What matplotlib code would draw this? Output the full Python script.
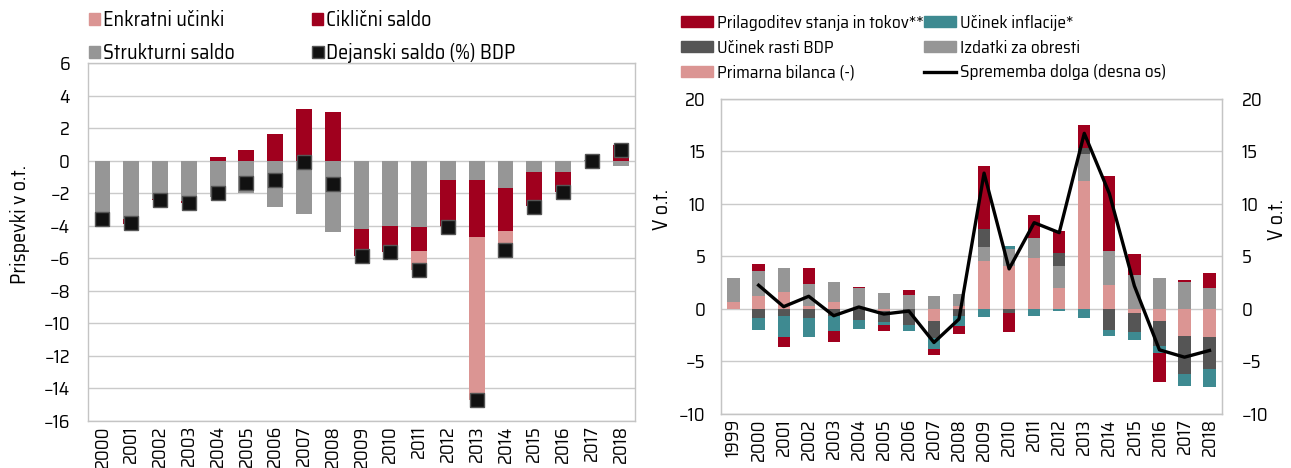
import matplotlib
matplotlib.use('Agg')
import matplotlib.pyplot as plt
import numpy as np
from matplotlib import font_manager as fm
from matplotlib.patches import Patch
from matplotlib.lines import Line2D

# pick a condensed humanist sans if one is installed, else Roboto
FAM = 'Roboto'
STRETCH = 'normal'
pref = ['semi-condensed', 'condensed']
best = None
for f in fm.fontManager.ttflist:
    st = str(f.stretch)
    nm = f.name
    cond = (st in pref) or ('Condensed' in nm) or ('Narrow' in nm)
    if not cond or f.style != 'normal':
        continue
    if str(f.weight) not in ('400', 'normal', 'regular', 'book'):
        continue
    score = 0
    if 'Noto Sans' in nm or 'Open Sans' in nm:
        score += 2
    if st == 'semi-condensed' or 'SemiCondensed' in nm:
        score += 1
    if best is None or score > best[0]:
        best = (score, nm, st)
if best is not None:
    FAM, STRETCH = best[1], best[2]

plt.rcParams['font.family'] = [FAM, 'Roboto', 'DejaVu Sans']
plt.rcParams['font.stretch'] = STRETCH
plt.rcParams['font.size'] = 13.5

# ---------------- data: left chart ----------------
years_l = [str(y) for y in range(2000, 2019)]
structural = [-3.45, -3.6, -2.35, -2.45, -2.25, -2.0, -2.85, -3.25, -4.4, -4.2,
              -4.0, -4.1, -1.2, -1.2, -1.7, -0.7, -0.7, 0.05, -0.3]
cyclical = [-0.15, -0.3, -0.05, -0.15, 0.25, 0.65, 1.65, 3.15, 3.0, -1.65,
            -1.6, -1.45, -2.8, -3.5, -2.65, -2.1, -1.25, -0.05, 0.95]
one_off = [0, 0, 0, 0, 0, 0, 0, 0, 0, 0,
           0, -1.15, -0.05, -10.0, -1.2, 0, 0, 0, 0]
actual = [-3.6, -3.85, -2.4, -2.6, -2.0, -1.35, -1.2, -0.1, -1.45, -5.85,
          -5.6, -6.7, -4.05, -14.7, -5.5, -2.85, -1.95, 0.0, 0.65]

# ---------------- data: right chart ----------------
years_r = [str(y) for y in range(1999, 2019)]
primary = [0.67, 1.27, 1.59, 0.25, 0.7, 0.2, -0.15, 0.0, -1.18, 0.32,
           4.53, 4.08, 4.81, 2.04, 12.17, 2.33, -0.38, -1.12, -2.55, -2.68]
interest = [2.3, 2.36, 2.3, 2.17, 1.91, 1.78, 1.53, 1.37, 1.24, 1.08,
            1.33, 1.59, 1.91, 2.04, 2.58, 3.21, 3.28, 2.96, 2.55, 2.01]
growth = [0.0, -0.89, -0.64, -0.86, -0.7, -1.08, -1.05, -1.5, -1.6, -0.64,
          1.79, -0.38, 0.0, 1.27, 0.58, -1.98, -1.82, -2.45, -3.6, -3.06]
inflation = [0.0, -1.15, -2.07, -1.79, -1.44, -0.83, -0.35, -0.57, -1.02, -1.02,
             -0.76, 0.32, -0.64, -0.22, -0.89, -0.63, -0.76, -0.64, -1.18, -1.65]
sfa = [0.0, 0.64, -0.89, 1.5, -0.98, 0.12, -0.5, 0.48, -0.58, -0.73,
       5.93, -1.85, 2.23, 2.08, 2.2, 7.08, 1.91, -2.77, 0.19, 1.43]
debt_change = [np.nan, 2.26, 0.22, 1.21, -0.64, 0.19, -0.48, -0.2, -3.19, -0.96,
               12.94, 3.82, 8.22, 7.27, 16.73, 11.0, 2.2, -3.89, -4.59, -3.95]

C_RED = '#A0001E'
C_PINK = '#DB9593'
C_GRAY = '#969696'
C_DGRAY = '#555555'
C_TEAL = '#3E8A91'
C_BLACK = '#111111'
C_GRID = '#CACACA'


def stacked(ax, labels, series, colors, width):
    x = np.arange(len(labels))
    pos = np.zeros(len(labels))
    neg = np.zeros(len(labels))
    for vals, c in zip(series, colors):
        v = np.asarray(vals, dtype=float)
        bottom = np.where(v >= 0, pos, neg)
        ax.bar(x, v, width, bottom=bottom, color=c, linewidth=0, zorder=2)
        pos += np.where(v >= 0, v, 0)
        neg += np.where(v < 0, v, 0)
    return x


def style(ax):
    for s in ax.spines.values():
        s.set_color('#C4C4C4')
        s.set_linewidth(1.0)
    ax.yaxis.grid(True, color=C_GRID, linewidth=1.0, zorder=0)
    ax.set_axisbelow(True)
    ax.tick_params(length=0)


fig = plt.figure(figsize=(12.91, 4.68), dpi=100)

# ---------------- left chart ----------------
axl = fig.add_axes([0.0682, 0.1004, 0.4237, 0.765])
x = stacked(axl, years_l, [structural, cyclical, one_off], [C_GRAY, C_RED, C_PINK], 0.55)
axl.plot(x, actual, linestyle='none', marker='s', markersize=9.5,
         markerfacecolor=C_BLACK, markeredgecolor='#555555', markeredgewidth=1.0, zorder=4)
axl.set_xlim(-0.5, len(years_l) - 0.5)
axl.set_ylim(-16, 6)
axl.set_yticks(np.arange(-16, 7, 2))
axl.set_xticks(x)
axl.set_xticklabels(years_l, rotation=90)
style(axl)
axl.tick_params(axis='y', pad=13)
axl.tick_params(axis='x', pad=3)
axl.set_ylabel('Prispevki v o.t.', fontsize=14.5)
axl.yaxis.set_label_coords(-0.106, 0.55)

# left legend (two columns)
hl1 = [Patch(color=C_PINK), Patch(color=C_GRAY)]
hl2 = [Patch(color=C_RED),
       Line2D([], [], linestyle='none', marker='s', markersize=8,
              markerfacecolor=C_BLACK, markeredgecolor='#555555')]
kw = dict(frameon=False, borderpad=0, handlelength=0.55, handleheight=0.55,
          handletextpad=0.15, labelspacing=0.65, loc='upper left', borderaxespad=0,
          fontsize=14.5)
fig.legend(hl1, ['Enkratni učinki', 'Strukturni saldo'],
           bbox_to_anchor=(89 / 1291, 1 - 10 / 468), **kw)
fig.legend(hl2, ['Ciklični saldo', 'Dejanski saldo (%) BDP'],
           bbox_to_anchor=(312 / 1291, 1 - 10 / 468), **kw)

# ---------------- right chart ----------------
axr = fig.add_axes([0.5585, 0.1154, 0.3881, 0.6731])
xr = stacked(axr, years_r, [primary, interest, growth, inflation, sfa],
             [C_PINK, C_GRAY, C_DGRAY, C_TEAL, C_RED], 0.49)
axr.set_xlim(-0.5, len(years_r) - 0.5)
axr.set_ylim(-10, 20)
axr.set_yticks(np.arange(-10, 21, 5))
axr.set_xticks(xr)
axr.set_xticklabels(years_r, rotation=90)
style(axr)
axr.tick_params(axis='y', pad=11)
axr.tick_params(axis='x', pad=3)
axr.set_ylabel('V o.t.', fontsize=14.5)
axr.yaxis.set_label_coords(-0.098, 0.648)

axr2 = axr.twinx()
axr2.plot(xr, debt_change, color='black', linewidth=2.4, zorder=5)
axr2.set_ylim(-10, 20)
axr2.set_yticks(np.arange(-10, 21, 5))
axr2.tick_params(length=0, pad=14)
for s in axr2.spines.values():
    s.set_color('#C4C4C4')
axr2.set_ylabel('V o.t.', fontsize=14.5)
axr2.yaxis.set_label_coords(1.09, 0.616)

kw2 = dict(frameon=False, borderpad=0, handlelength=1.85, handleheight=0.6,
           handletextpad=0.2, labelspacing=0.5, loc='upper left', borderaxespad=0,
           fontsize=12.5)
hr1 = [Patch(color=C_RED), Patch(color=C_DGRAY), Patch(color=C_PINK)]
hr2 = [Patch(color=C_TEAL), Patch(color=C_GRAY), Line2D([], [], color='black', linewidth=2.4)]
fig.legend(hr1, ['Prilagoditev stanja in tokov**', 'Učinek rasti BDP', 'Primarna bilanca (-)'],
           bbox_to_anchor=(681 / 1291, 1 - 15 / 468), **kw2)
fig.legend(hr2, ['Učinek inflacije*', 'Izdatki za obresti', 'Sprememba dolga (desna os)'],
           bbox_to_anchor=(924 / 1291, 1 - 15 / 468), **kw2)

fig.savefig('out.png', dpi=100)
